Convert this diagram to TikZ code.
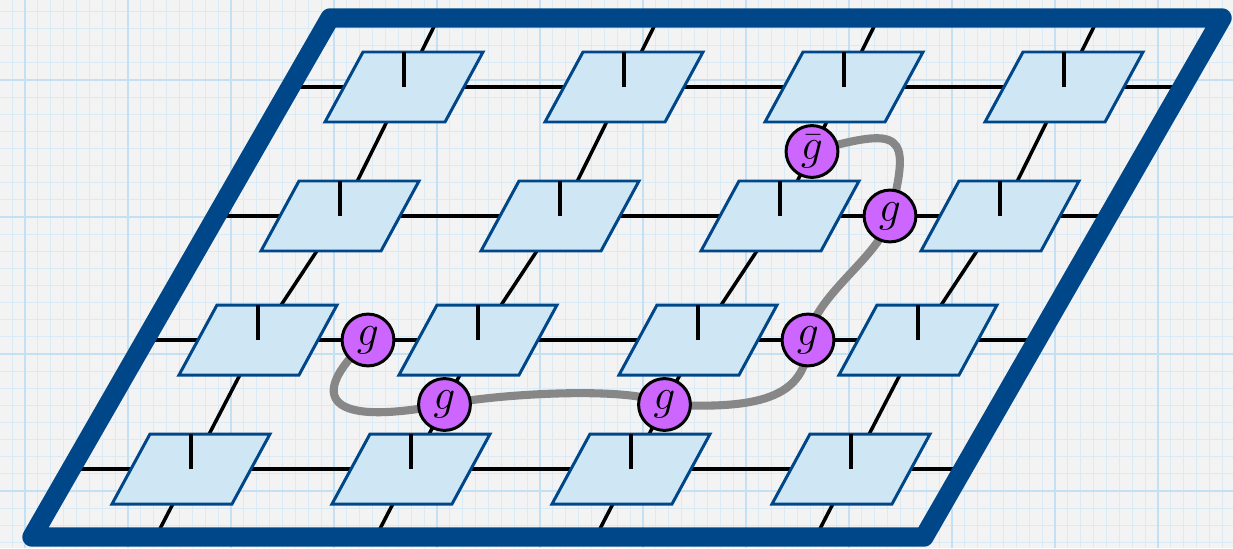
\documentclass[tikz,border=0pt]{standalone}
\usetikzlibrary{calc, backgrounds}
\definecolor{framecol}{RGB}{0,71,138}
\definecolor{tilefill}{RGB}{207,230,244}
\definecolor{paperbg}{RGB}{243,243,243}
\definecolor{gridminor}{RGB}{218,235,246}
\definecolor{gridmajor}{RGB}{196,224,242}
\definecolor{gfill}{RGB}{204,102,255}
\definecolor{loopgray}{RGB}{135,135,135}
\tikzset{
  tile/.style      = {draw=framecol, fill=tilefill, line width=1.7pt},
  tick/.style      = {line width=2.3pt},
  bond/.style      = {line width=2pt},
  outline/.style   = {draw=framecol, line width=11pt, line join=round},
  gcirc/.style     = {circle, draw=black, fill=gfill, line width=1.7pt, minimum size=29.5pt,
                      inner sep=0pt, font=\fontsize{30}{30}\selectfont},
  loopline/.style  = {draw=loopgray, line width=4.6pt, line cap=round},
  minorgrid/.style = {gridminor, line width=0.6pt},
  majorgrid/.style = {gridmajor, line width=1.1pt},
}

\begin{document}
\begin{tikzpicture}[x=0.02cm, y=-0.02cm]
  \useasboundingbox (0,0) rectangle (1233,548);
  % graph paper
  \begin{scope}[on background layer]
    \fill[paperbg] (0,0) rectangle (1233,548);
    \foreach \i in {0,...,96}
      \draw[minorgrid] ({-0.75+12.875*\i},0) -- ++(0,548);
    \foreach \j in {0,...,32}
      \draw[minorgrid] (0,{-5.625+17.125*\j}) -- ++(1233,0);
    \foreach \i in {0,...,11}
      \draw[majorgrid] ({25+103*\i},0) -- ++(0,548);
    \foreach \j in {0,...,3}
      \draw[majorgrid] (0,{80+137*\j}) -- ++(1233,0);
  \end{scope}

  \coordinate (nw) at (330,18);
  \coordinate (ne) at (1222,18);
  \coordinate (se) at (924,537);
  \coordinate (sw) at (32,537);

  % 4x4 tiles
  \foreach \r/\x/\y in {1/404/87, 2/340/216, 3/258/340, 4/191/469}
    \foreach \c in {1,...,4} {
      \coordinate (t-\r-\c) at ({\x+220*(\c-1)},\y);
      \filldraw[tile] (t-\r-\c) ++(-41,-35) -- ++(120,0) -- ++(-38,70) -- ++(-120,0) -- cycle;
      \draw[tick] (t-\r-\c) -- ++(0,-35);
    }

  % bonds behind the tiles
  \begin{scope}[on background layer]
    \clip (nw) -- (ne) -- (se) -- (sw) -- cycle;
    \foreach \r in {1,...,4}
      \draw[bond] ($(t-\r-1)+(-250,0)$) -- ($(t-\r-4)+(250,0)$);
    \foreach \c in {1,...,4}
      \draw[bond] ($(t-1-\c)!-1!(t-2-\c)$) -- (t-1-\c) -- (t-2-\c) -- (t-3-\c)
        -- (t-4-\c) -- ($(t-4-\c)!-1!(t-3-\c)$);
  \end{scope}

  \draw[outline] (nw) -- (ne) -- (se) -- (sw) -- cycle;

  % g on the bonds
  \node[gcirc] (gb) at ($(t-1-3)!.5!(t-2-3)$) {$\bar g$};
  \node[gcirc] (g1) at ($(t-2-3)!.5!(t-2-4)$) {$g$};
  \node[gcirc] (g2) at ($(t-3-3)!.5!(t-3-4)$) {$g$};
  \node[gcirc] (g3) at ($(t-3-3)!.5!(t-4-3)$) {$g$};
  \node[gcirc] (g4) at ($(t-3-2)!.5!(t-4-2)$) {$g$};
  \node[gcirc] (g5) at ($(t-3-1)!.5!(t-3-2)$) {$g$};

  % the string
  \begin{scope}[on background layer]
    \draw[loopline] (gb.center) .. controls +(90,-25) and +(22,-85) .. (g1.center)
      .. controls +(-8,40) and +(5,-45) .. (g2.center)
      .. controls +(0,60) and +(90,5) .. (g3.center)
      .. controls +(-25,-18) and +(60,-12) .. (g4.center)
      .. controls +(-130,25) and +(-55,50) .. (g5.center);
  \end{scope}
\end{tikzpicture}
\end{document}
